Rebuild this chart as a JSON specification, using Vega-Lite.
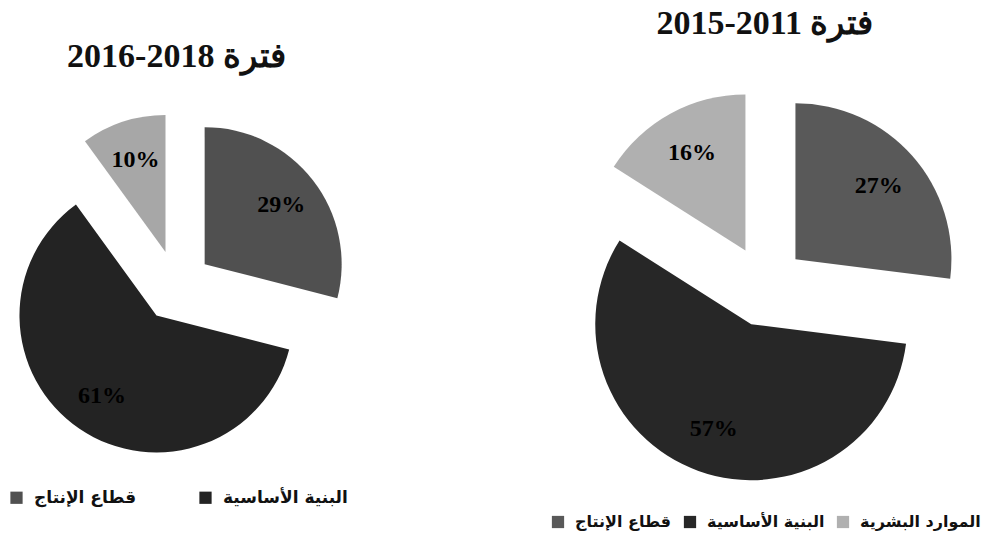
{
  "$schema": "https://vega.github.io/schema/vega-lite/v6.json",
  "background": "white",
  "padding": {"left": 0, "top": 7, "right": 0, "bottom": 0},
  "config": {
    "view": {"stroke": null},
    "title": {"font": "Liberation Serif", "fontWeight": "bold", "fontSize": 34, "color": "#111111", "anchor": "middle", "baseline": "bottom"},
    "legend": {"orient": "bottom", "direction": "horizontal", "title": null, "symbolType": "square", "symbolSize": 150, "symbolStrokeWidth": 0, "labelFont": "DejaVu Sans", "labelFontWeight": "bold", "labelFontSize": 17, "labelColor": "#111111", "labelOffset": 9, "labelLimit": 300}
  },
  "data": {
    "values": [
      {"period": "2016-2018", "sector": "قطاع الإنتاج", "share": 0.29, "order": 1},
      {"period": "2016-2018", "sector": "البنية الأساسية", "share": 0.61, "order": 2},
      {"period": "2016-2018", "sector": "الموارد البشرية", "share": 0.10, "order": 3},
      {"period": "2011-2015", "sector": "قطاع الإنتاج", "share": 0.27, "order": 1},
      {"period": "2011-2015", "sector": "البنية الأساسية", "share": 0.57, "order": 2},
      {"period": "2011-2015", "sector": "الموارد البشرية", "share": 0.16, "order": 3}
    ]
  },
  "spacing": 189,
  "resolve": {"legend": {"color": "independent"}, "scale": {"x": "independent", "y": "independent", "theta": "independent", "color": "independent"}},
  "hconcat": [
    {
      "title": {"text": "2016-2018 فترة", "offset": 15},
      "width": 353,
      "height": 394,
      "transform": [
        {"filter": {"field": "period", "equal": "2016-2018"}},
        {"stack": "share", "groupby": ["period"], "sort": [{"field": "order", "order": "ascending"}], "as": ["s0", "s1"]},
        {"calculate": "(datum.s0 + datum.s1) / 2", "as": "smid"},
        {"calculate": "0.26 * sin(2 * PI * datum.smid)", "as": "dx"},
        {"calculate": "0.26 * cos(2 * PI * datum.smid)", "as": "dy"}
      ],
      "encoding": {
        "x": {"field": "dx", "type": "quantitative", "scale": {"domain": [-1.288, 1.288], "nice": false, "zero": false}, "axis": null},
        "y": {"field": "dy", "type": "quantitative", "scale": {"domain": [-1.438, 1.438], "nice": false, "zero": false}, "axis": null}
      },
      "layer": [
        {
          "mark": {"type": "arc", "radius": 137},
          "encoding": {
            "theta": {"field": "s0", "type": "quantitative", "stack": null, "scale": {"domain": [0, 1]}},
            "theta2": {"field": "s1"},
            "color": {
              "field": "sector", "type": "nominal",
              "scale": {"domain": ["قطاع الإنتاج", "البنية الأساسية", "الموارد البشرية"], "range": ["#505050", "#232323", "#a7a7a7"]},
              "legend": {"values": ["قطاع الإنتاج", "البنية الأساسية"], "offset": -2, "padding": 8, "columnPadding": 60}
            }
          }
        },
        {
          "mark": {"type": "text", "radius": 97, "font": "Liberation Serif", "fontWeight": "bold", "fontSize": 24, "color": "#000000"},
          "encoding": {
            "theta": {"field": "smid", "type": "quantitative", "stack": null, "scale": {"domain": [0, 1]}},
            "text": {"field": "share", "type": "quantitative", "format": ".0%"}
          }
        }
      ]
    },
    {
      "title": {"text": "2015-2011 فترة", "offset": 48},
      "width": 440,
      "height": 394,
      "transform": [
        {"filter": {"field": "period", "equal": "2011-2015"}},
        {"stack": "share", "groupby": ["period"], "sort": [{"field": "order", "order": "ascending"}], "as": ["s0", "s1"]},
        {"calculate": "(datum.s0 + datum.s1) / 2", "as": "smid"},
        {"calculate": "0.26 * sin(2 * PI * datum.smid)", "as": "dx"},
        {"calculate": "0.26 * cos(2 * PI * datum.smid)", "as": "dy"}
      ],
      "encoding": {
        "x": {"field": "dx", "type": "quantitative", "scale": {"domain": [-1.41, 1.41], "nice": false, "zero": false}, "axis": null},
        "y": {"field": "dy", "type": "quantitative", "scale": {"domain": [-1.263, 1.263], "nice": false, "zero": false}, "axis": null}
      },
      "layer": [
        {
          "mark": {"type": "arc", "radius": 156},
          "encoding": {
            "theta": {"field": "s0", "type": "quantitative", "stack": null, "scale": {"domain": [0, 1]}},
            "theta2": {"field": "s1"},
            "color": {
              "field": "sector", "type": "nominal",
              "scale": {"domain": ["قطاع الإنتاج", "البنية الأساسية", "الموارد البشرية"], "range": ["#595959", "#272727", "#b0b0b0"]},
              "legend": {"offset": 26, "padding": 5, "columnPadding": 10, "labelFontSize": 16}
            }
          }
        },
        {
          "mark": {"type": "text", "radius": 111, "font": "Liberation Serif", "fontWeight": "bold", "fontSize": 24, "color": "#000000"},
          "encoding": {
            "theta": {"field": "smid", "type": "quantitative", "stack": null, "scale": {"domain": [0, 1]}},
            "text": {"field": "share", "type": "quantitative", "format": ".0%"}
          }
        }
      ]
    }
  ]
}
